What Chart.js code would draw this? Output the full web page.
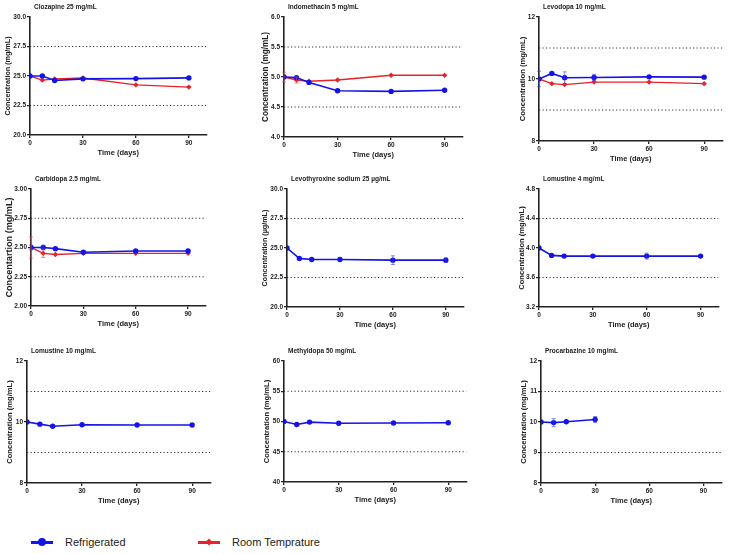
<!DOCTYPE html>
<html>
<head>
<meta charset="utf-8">
<script src="https://cdn.jsdelivr.net/npm/chart.js@4.4.1/dist/chart.umd.min.js"></script>
<style>
  body { margin: 0; background: #fff; width: 730px; height: 554px; position: relative; overflow: hidden; font-family: Arial, "Liberation Sans", sans-serif; }
  canvas { position: absolute; }
  .legend { position: absolute; top: 534px; height: 16px; display: flex; align-items: center; font-size: 11px; color: #222; }
  .mark { position: relative; width: 22px; height: 3px; margin-right: 12px; }
  .mark i { position: absolute; left: 7px; top: -2.5px; width: 8px; height: 8px; }
</style>
</head>
<body>
<div class="legend" style="left:31px"><span class="mark" style="background:#1414e6"><i style="background:#1414e6;border-radius:50%"></i></span>Refrigerated</div>
<div class="legend" style="left:198px"><span class="mark" style="background:#e6222a"><i style="background:#e6222a;transform:rotate(45deg) scale(0.6)"></i></span>Room Temprature</div>
<script>
const days = [0, 7, 14, 30, 60, 90];
const procarbazineDays = [0, 7, 14, 30];
const xTickLabels = ['0', '30', '60', '90'];
const xMin = 0, xMax = 100;

const titles = [
  'Clozapine 25 mg/mL', 'Indomethacin 5 mg/mL', 'Levodopa 10 mg/mL',
  'Carbidopa 2.5 mg/mL', 'Levothyroxine sodium 25 µg/mL', 'Lomustine 4 mg/mL',
  'Lomustine 10 mg/mL', 'Methyldopa 50 mg/mL', 'Procarbazine 10 mg/mL'
];
const yTitles = [
  'Concentration (mg/mL)', 'Concentration (mg/mL)', 'Concentration (mg/mL)',
  'Concentartion (mg/mL)', 'Concentration (µg/mL)', 'Concentration (mg/mL)',
  'Concentration (mg/mL)', 'Concentration (mg/mL)', 'Concentration (mg/mL)'
];

// y tick labels per panel
const clozapineTicks = ['20.0', '22.5', '25.0', '27.5', '30.0'];
const indomethacinTicks = ['4.0', '4.5', '5.0', '5.5', '6.0'];
const levodopaTicks = ['8', '10', '12'];
const carbidopaTicks = ['2.00', '2.25', '2.50', '2.75', '3.00'];
const levothyroxineTicks = ['20.0', '22.5', '25.0', '27.5', '30.0'];
const lomustine4Ticks = ['3.2', '3.6', '4.0', '4.4', '4.8'];
const lomustine10Ticks = ['8', '10', '12'];
const methyldopaTicks = ['40', '45', '50', '55', '60'];
const procarbazineTicks = ['8', '9', '10', '11', '12'];

// ±10% limit lines
const clozapineLimits = [22.5, 27.5];
const indomethacinLimits = [4.5, 5.5];
const levodopaLimits = [9, 11];
const carbidopaLimits = [2.25, 2.75];
const levothyroxineLimits = [22.5, 27.5];
const lomustine4Limits = [3.6, 4.4];
const lomustine10Limits = [9, 11];
const methyldopaLimits = [45, 55];
const procarbazineLimits = [9, 11];

// series values and error bars
const clozapineRefrig = [25.0, 25.0, 24.62, 24.76, 24.78, 24.84];
const clozapineRefrigErr = [0.05, 0.08, 0.1, 0.05, 0.03, 0.05];
const clozapineRoom = [25.0, 24.65, 24.75, 24.83, 24.25, 24.06];
const clozapineRoomErr = [0.05, 0.1, 0.1, 0.05, 0.04, 0.04];

const indomethacinRefrig = [5.0, 4.99, 4.91, 4.77, 4.76, 4.78];
const indomethacinRefrigErr = [0.02, 0.03, 0.02, 0.02, 0.02, 0.02];
const indomethacinRoom = [5.0, 4.95, 4.93, 4.95, 5.03, 5.03];
const indomethacinRoomErr = [0.08, 0.05, 0.03, 0.02, 0.02, 0.02];

const levodopaRefrig = [10.0, 10.18, 10.04, 10.05, 10.07, 10.06];
const levodopaRefrigErr = [0.25, 0.04, 0.19, 0.1, 0.05, 0.03];
const levodopaRoom = [10.0, 9.85, 9.82, 9.9, 9.9, 9.85];
const levodopaRoomErr = [0.05, 0.04, 0.04, 0.06, 0.03, 0.03];

const carbidopaRefrig = [2.50, 2.50, 2.49, 2.46, 2.47, 2.47];
const carbidopaRefrigErr = [0.02, 0.02, 0.015, 0.01, 0.012, 0.01];
const carbidopaRoom = [2.50, 2.45, 2.44, 2.45, 2.45, 2.45];
const carbidopaRoomErr = [0.09, 0.035, 0.01, 0.01, 0.01, 0.01];

const levothyroxineRefrig = [25.0, 24.12, 24.03, 24.03, 23.97, 23.97];
const levothyroxineRefrigErr = [0.05, 0.08, 0.1, 0.12, 0.37, 0.2];

const lomustine4Refrig = [4.0, 3.90, 3.89, 3.89, 3.89, 3.89];
const lomustine4RefrigErr = [0.01, 0.01, 0.01, 0.01, 0.04, 0.01];

const lomustine10Refrig = [10.0, 9.93, 9.86, 9.91, 9.90, 9.90];
const lomustine10RefrigErr = [0.02, 0.02, 0.03, 0.02, 0.02, 0.02];

const methyldopaRefrig = [50.0, 49.5, 49.9, 49.7, 49.75, 49.8];
const methyldopaRefrigErr = [0.1, 0.15, 0.1, 0.1, 0.1, 0.1];

const procarbazineRefrig = [10.0, 9.98, 10.01, 10.08];
const procarbazineRefrigErr = [0.03, 0.13, 0.03, 0.1];

const BLUE = '#1414e6';
const RED = '#e6222a';
const FONT = 'Arial, "Liberation Sans", sans-serif';

const pts = (xs, ys) => ys.map((y, i) => ({ x: xs[i], y }));

const panelData = [
  { ticks: clozapineTicks, limits: clozapineLimits, refrig: [days, clozapineRefrig, clozapineRefrigErr], room: [days, clozapineRoom, clozapineRoomErr] },
  { ticks: indomethacinTicks, limits: indomethacinLimits, refrig: [days, indomethacinRefrig, indomethacinRefrigErr], room: [days, indomethacinRoom, indomethacinRoomErr] },
  { ticks: levodopaTicks, limits: levodopaLimits, refrig: [days, levodopaRefrig, levodopaRefrigErr], room: [days, levodopaRoom, levodopaRoomErr] },
  { ticks: carbidopaTicks, limits: carbidopaLimits, refrig: [days, carbidopaRefrig, carbidopaRefrigErr], room: [days, carbidopaRoom, carbidopaRoomErr] },
  { ticks: levothyroxineTicks, limits: levothyroxineLimits, refrig: [days, levothyroxineRefrig, levothyroxineRefrigErr] },
  { ticks: lomustine4Ticks, limits: lomustine4Limits, refrig: [days, lomustine4Refrig, lomustine4RefrigErr] },
  { ticks: lomustine10Ticks, limits: lomustine10Limits, refrig: [days, lomustine10Refrig, lomustine10RefrigErr] },
  { ticks: methyldopaTicks, limits: methyldopaLimits, refrig: [days, methyldopaRefrig, methyldopaRefrigErr] },
  { ticks: procarbazineTicks, limits: procarbazineLimits, refrig: [procarbazineDays, procarbazineRefrig, procarbazineRefrigErr] }
];

// placement: [axisX, plotTop, plotBottom, axisRight, yAxisWidth, yTitleSize]
const boxes = [
  [30, 17, 135, 207, 30, 7.2], [284, 17, 137, 463, 27, 8.2], [539, 17, 141, 723, 25, 7.7],
  [31, 189, 306, 206, 31, 9.1], [287, 189, 307, 464, 30, 7.2], [539, 189, 307, 719, 26, 7.6],
  [27, 361, 483, 211, 26, 7.6], [284, 361, 482, 467, 26, 7.6], [541, 361, 483, 722, 26, 7.6]
];
const T_PAD = 14, X_H = 24, R_PAD = 3;

const errorBars = {
  id: 'errorBars',
  afterDatasetsDraw(chart) {
    const { ctx, scales: { x, y } } = chart;
    chart.data.datasets.forEach(ds => {
      if (!ds.errors) return;
      ctx.save();
      ctx.strokeStyle = ds.errColor;
      ctx.lineWidth = 1;
      ds.data.forEach((p, j) => {
        const e = ds.errors[j];
        const px = x.getPixelForValue(p.x);
        const y1 = y.getPixelForValue(p.y + e), y2 = y.getPixelForValue(p.y - e);
        if (y2 - y1 < 4) return;
        ctx.beginPath();
        ctx.moveTo(px, y1); ctx.lineTo(px, y2);
        ctx.moveTo(px - 2, y1); ctx.lineTo(px + 2, y1);
        ctx.moveTo(px - 2, y2); ctx.lineTo(px + 2, y2);
        ctx.stroke();
      });
      ctx.restore();
    });
  }
};

const panelTitle = {
  id: 'panelTitle',
  afterDraw(chart, args, opts) {
    const { ctx, chartArea } = chart;
    ctx.save();
    ctx.font = 'bold 6.5px ' + FONT;
    ctx.fillStyle = '#222';
    ctx.textBaseline = 'middle';
    ctx.fillText(opts.text, chartArea.left + 4, chartArea.top - 10);
    ctx.restore();
  }
};

panelData.forEach((pd, k) => {
  const [ax, top, bottom, right, yW, ySize] = boxes[k];
  const canvas = document.createElement('canvas');
  const w = right - ax + yW + R_PAD;
  const h = bottom - top + T_PAD + X_H;
  canvas.width = w; canvas.height = h;
  canvas.style.left = (ax - yW) + 'px';
  canvas.style.top = (top - T_PAD) + 'px';
  canvas.style.width = w + 'px'; canvas.style.height = h + 'px';
  document.body.appendChild(canvas);

  const yVals = pd.ticks.map(parseFloat);
  const datasets = [];
  const [rx, ry, re] = pd.refrig;
  datasets.push({
    label: 'Refrigerated', data: pts(rx, ry), errors: re, errColor: 'rgba(60,60,235,0.6)',
    borderColor: BLUE, backgroundColor: BLUE, borderWidth: 1.6,
    pointStyle: 'circle', pointRadius: 1.9, pointHoverRadius: 1.9, order: 1
  });
  if (pd.room) {
    const [mx, my, me] = pd.room;
    datasets.push({
      label: 'Room Temprature', data: pts(mx, my), errors: me, errColor: 'rgba(235,60,60,0.6)',
      borderColor: RED, backgroundColor: RED, borderWidth: 1.4,
      pointStyle: 'rectRot', pointRadius: 1.7, pointHoverRadius: 1.7, order: 2
    });
  }
  pd.limits.forEach(L => datasets.push({
    data: [{ x: xMin, y: L }, { x: xMax, y: L }],
    borderColor: '#333', borderWidth: 1, borderDash: [1.2, 2.3],
    pointRadius: 0, order: 3
  }));

  new Chart(canvas, {
    type: 'line',
    data: { datasets },
    plugins: [errorBars, panelTitle],
    options: {
      responsive: false,
      animation: false,
      devicePixelRatio: 1,
      layout: { padding: { top: T_PAD, right: R_PAD, left: 0, bottom: 0 } },
      plugins: {
        legend: { display: false },
        tooltip: { enabled: false },
        panelTitle: { text: titles[k] }
      },
      scales: {
        x: {
          type: 'linear', min: xMin, max: xMax,
          afterBuildTicks: s => { s.ticks = xTickLabels.map(v => ({ value: +v })); },
          afterFit: s => { s.height = X_H; },
          ticks: { color: '#222', padding: 1, font: { family: FONT, size: 6.5, weight: 'bold' }, maxRotation: 0 },
          grid: { display: true, drawOnChartArea: false, drawTicks: true, tickLength: 3, color: '#222', lineWidth: 1.3 },
          border: { display: true, color: '#222', width: 1.6 },
          title: { display: true, text: 'Time (days)', color: '#222', font: { family: FONT, size: 7.5, weight: 'bold' }, padding: { top: 0, bottom: 2 } }
        },
        y: {
          type: 'linear', min: yVals[0], max: yVals[yVals.length - 1],
          afterBuildTicks: s => { s.ticks = yVals.map(v => ({ value: v })); },
          afterFit: s => { s.width = yW; },
          ticks: {
            color: '#222', padding: 1, font: { family: FONT, size: 6.5, weight: 'bold' },
            callback: (v, i) => pd.ticks[i]
          },
          grid: { display: true, drawOnChartArea: false, drawTicks: true, tickLength: 3, color: '#222', lineWidth: 1.3 },
          border: { display: true, color: '#222', width: 1.6 },
          title: { display: true, text: yTitles[k], color: '#222', font: { family: FONT, size: ySize, weight: 'bold' }, padding: { top: 4, bottom: 0 } }
        }
      }
    }
  });
});
</script>
</body>
</html>
